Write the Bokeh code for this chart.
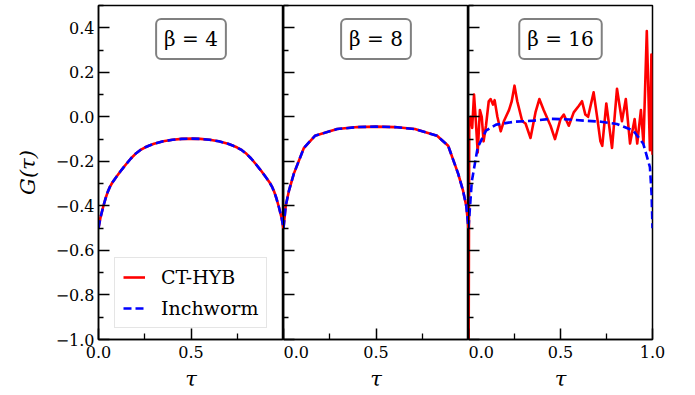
from bokeh.plotting import figure
from bokeh.layouts import row
from bokeh.models import Range1d, FixedTicker, Label, Legend, LegendItem
from bokeh.embed import file_html
from bokeh.resources import INLINE

# ---------------- data ----------------
betas = ["β = 4", "β = 8", "β = 16"]

tau4 = [0.0, 0.01, 0.025, 0.0375, 0.05, 0.0625, 0.075, 0.0875, 0.1, 0.125, 0.15, 0.175, 0.2, 0.225,
        0.25, 0.275, 0.3, 0.35, 0.4, 0.45, 0.5,
        0.55, 0.6, 0.65, 0.7, 0.725, 0.75, 0.775, 0.8, 0.825, 0.85, 0.875, 0.9, 0.9125, 0.925, 0.9375,
        0.95, 0.9625, 0.975, 0.99, 1.0]
inch4 = [-0.50, -0.455, -0.405, -0.368, -0.337, -0.313, -0.295, -0.28, -0.266, -0.238, -0.212, -0.187,
         -0.166, -0.150, -0.138, -0.129, -0.121, -0.110, -0.103, -0.099, -0.098,
         -0.099, -0.103, -0.110, -0.121, -0.129, -0.138, -0.150, -0.166, -0.187, -0.212, -0.238, -0.266,
         -0.28, -0.295, -0.313, -0.337, -0.368, -0.405, -0.455, -0.50]
ct4 = [-0.50, -0.455, -0.405, -0.368, -0.337, -0.313, -0.295, -0.28, -0.266, -0.238, -0.212, -0.187,
       -0.166, -0.150, -0.138, -0.129, -0.121, -0.110, -0.103, -0.099, -0.098,
       -0.099, -0.103, -0.110, -0.121, -0.129, -0.138, -0.150, -0.166, -0.187, -0.212, -0.238, -0.266,
       -0.28, -0.295, -0.313, -0.337, -0.368, -0.405, -0.455, -0.50]

tau8 = [0.0, 0.012, 0.03, 0.056, 0.11, 0.17, 0.29, 0.4, 0.5, 0.6, 0.71, 0.83, 0.89, 0.944, 0.97, 0.988, 1.0]
inch8 = [-0.50, -0.40, -0.33, -0.255, -0.14, -0.085, -0.055, -0.046, -0.044, -0.046, -0.055, -0.085, -0.13,
         -0.255, -0.33, -0.40, -0.50]
ct8 = [-0.50, -0.40, -0.33, -0.255, -0.14, -0.085, -0.055, -0.046, -0.044, -0.046, -0.055, -0.085, -0.13,
       -0.255, -0.33, -0.40, -0.50]

tau16_inch = [0.0, 0.018, 0.05, 0.095, 0.15, 0.25, 0.355, 0.445, 0.55, 0.626, 0.72, 0.806, 0.896, 0.95,
              0.986, 0.995, 1.0]
inch16 = [-0.50, -0.29, -0.137, -0.062, -0.035, -0.022, -0.017, -0.009, -0.012, -0.017, -0.022, -0.032,
          -0.062, -0.121, -0.226, -0.346, -0.50]

tau16_ct = [0.0, 0.004, 0.012, 0.020, 0.030, 0.040, 0.050, 0.062, 0.072, 0.082, 0.095, 0.110, 0.120, 0.133,
            0.142, 0.157, 0.175, 0.192, 0.220, 0.235, 0.250, 0.265, 0.292, 0.310, 0.337, 0.364, 0.385, 0.409,
            0.446, 0.470, 0.500, 0.518, 0.545, 0.572, 0.600, 0.617, 0.635, 0.650, 0.680, 0.699, 0.717, 0.727,
            0.749, 0.780, 0.807, 0.834, 0.855, 0.878, 0.903, 0.917, 0.937, 0.951, 0.969, 0.986, 0.994, 1.0]
ct16 = [-1.30, -0.01, 0.0, -0.05, 0.10, -0.02, -0.16, 0.03, 0.0, -0.11, -0.04, 0.07, 0.08, 0.055,
        0.075, 0.0, -0.065, -0.02, 0.03, 0.07, 0.14, 0.07, -0.02, -0.03, -0.095, 0.02, 0.08, 0.03,
        -0.04, -0.10, -0.01, 0.01, -0.04, 0.02, 0.05, 0.07, 0.01, 0.0, 0.11, 0.0, -0.11, -0.13,
        0.06, -0.14, 0.126, -0.02, 0.08, -0.12, -0.01, -0.12, 0.03, -0.12, 0.385, -0.15, 0.28, -0.17]

y_ticks = [-1.0, -0.8, -0.6, -0.4, -0.2, 0.0, 0.2, 0.4]
y_tick_labels = ["−1.0", "−0.8", "−0.6", "−0.4", "−0.2", "0.0", "0.2", "0.4"]
y_minor = [-0.9, -0.7, -0.5, -0.3, -0.1, 0.1, 0.3, 0.5]
x_ticks_inner = [0.0, 0.5]
x_ticks_last = [0.0, 0.5, 1.0]
x_tick_labels = {0.0: "0.0", 0.5: "0.5", 1.0: "1.0"}
x_minor = [0.25, 0.75]

RED = "#ff0000"
BLUE = "#0000ff"
SERIF = "DejaVu Serif"


def make_panel(frame_w, left_border, right_border, first, xt):
    p = figure(frame_width=frame_w, frame_height=334,
               x_range=Range1d(0, 1), y_range=Range1d(-1.0, 0.5),
               output_backend="svg", toolbar_location=None, title=None,
               min_border_left=left_border, min_border_right=right_border,
               min_border_top=5, min_border_bottom=56)
    p.grid.visible = False
    p.background_fill_color = "white"
    p.border_fill_color = "white"
    p.outline_line_color = "black"
    p.outline_line_width = 1.5

    ya = p.yaxis[0]
    ya.ticker = FixedTicker(ticks=y_ticks, minor_ticks=y_minor)
    ya.major_tick_in = 11
    ya.major_tick_out = 0
    ya.minor_tick_in = 5
    ya.minor_tick_out = 0
    ya.axis_line_width = 1.5
    ya.axis_line_color = "black"
    ya.major_tick_line_color = "black"
    ya.minor_tick_line_color = "black"
    ya.major_tick_line_width = 1.5
    ya.minor_tick_line_width = 1.3
    if first:
        ya.major_label_overrides = dict(zip(y_ticks, y_tick_labels))
        ya.major_label_text_font = SERIF
        ya.major_label_text_font_size = "16px"
        ya.major_label_text_color = "black"
        ya.major_label_standoff = 4
        ya.axis_label = "G(τ)"
        ya.axis_label_text_font = SERIF
        ya.axis_label_text_font_style = "italic"
        ya.axis_label_text_font_size = "21px"
        ya.axis_label_text_color = "black"
        ya.axis_label_standoff = 13
    else:
        ya.major_label_overrides = {t: "" for t in y_ticks}
        ya.major_label_standoff = 0

    xa = p.xaxis[0]
    xa.ticker = FixedTicker(ticks=xt, minor_ticks=x_minor)
    xa.major_label_overrides = {t: x_tick_labels[t] for t in xt}
    xa.major_tick_in = 11
    xa.major_tick_out = 0
    xa.minor_tick_in = 6
    xa.minor_tick_out = 0
    xa.axis_line_width = 1.5
    xa.axis_line_color = "black"
    xa.major_tick_line_color = "black"
    xa.minor_tick_line_color = "black"
    xa.major_tick_line_width = 1.5
    xa.minor_tick_line_width = 1.3
    xa.major_label_text_font = SERIF
    xa.major_label_text_font_size = "16px"
    xa.major_label_text_color = "black"
    xa.major_label_standoff = 6
    xa.axis_label = "τ"
    xa.axis_label_text_font = SERIF
    xa.axis_label_text_font_style = "italic"
    xa.axis_label_text_font_size = "21px"
    xa.axis_label_text_color = "black"
    xa.axis_label_standoff = 6
    return p


p1 = make_panel(185, 98, 0, True, x_ticks_inner)
p2 = make_panel(185, 0, 0, False, x_ticks_inner)
p3 = make_panel(184, 0, 43, False, x_ticks_last)

panels = [p1, p2, p3]
ct_x = [tau4, tau8, tau16_ct]
ct_y = [ct4, ct8, ct16]
in_x = [tau4, tau8, tau16_inch]
in_y = [inch4, inch8, inch16]

legend_renderers = []
for p, cx, cy, ix, iy, b in zip(panels, ct_x, ct_y, in_x, in_y, betas):
    r_ct = p.line(cx, cy, line_color=RED, line_width=2.6, line_join="round")
    r_in = p.line(ix, iy, line_color=BLUE, line_width=2.6, line_dash="8 4")
    legend_renderers.append((r_ct, r_in))
    p.add_layout(Label(x=0.5, y=0.35, text=b, text_align="center", text_baseline="middle",
                       text_font=SERIF, text_font_size="20px", text_color="black",
                       background_fill_color="white", border_line_color="#808080",
                       border_line_width=2, padding=8, border_radius=5))

legend = Legend(items=[LegendItem(label="CT-HYB", renderers=[legend_renderers[0][0]]),
                       LegendItem(label="Inchworm", renderers=[legend_renderers[0][1]])],
                location=(16, 11), orientation="vertical",
                label_text_font=SERIF, label_text_font_size="19px", label_text_color="black",
                label_height=20, glyph_height=20, glyph_width=22, spacing=9,
                padding=8, margin=0, label_standoff=16,
                border_line_color="#cccccc", border_line_width=1,
                background_fill_color="white", background_fill_alpha=0.85)
p1.add_layout(legend)

layout = row(p1, p2, p3)
open("out.html", "w").write(file_html(layout, INLINE))
